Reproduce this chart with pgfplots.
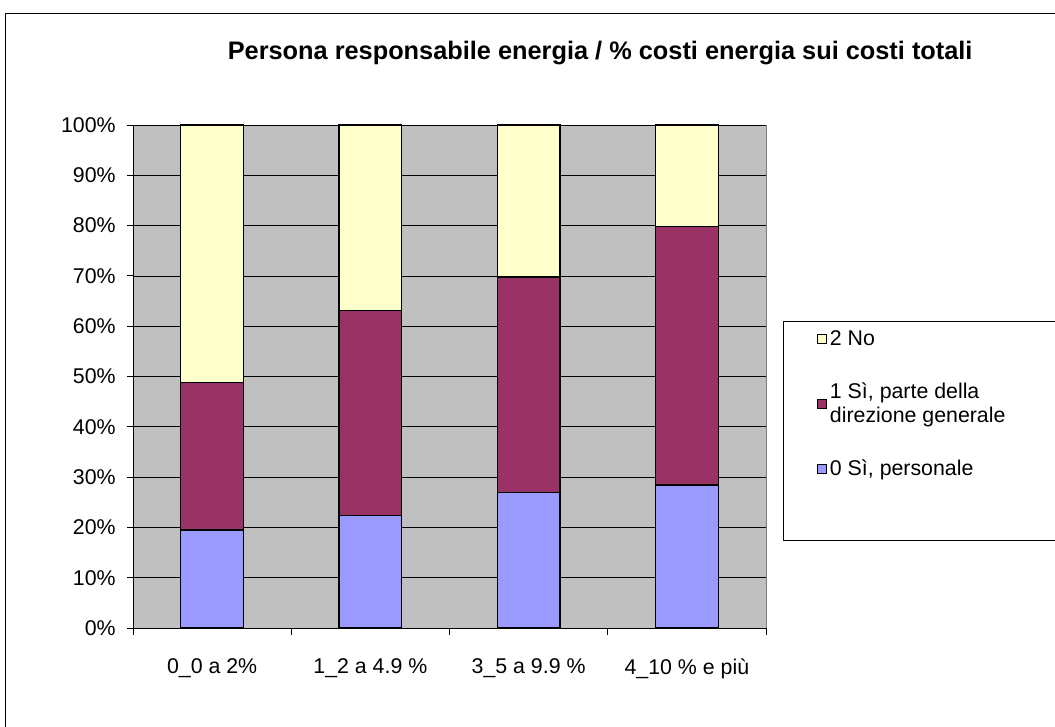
\documentclass[border=0pt]{standalone}
\usepackage{fontspec}
\setmainfont{Liberation Sans}
\usepackage{pgfplots}
\pgfplotsset{compat=1.18}
\definecolor{xlno}{HTML}{FFFFCC}
\definecolor{xlpart}{HTML}{993366}
\definecolor{xlpers}{HTML}{9999FF}
\definecolor{xlplot}{HTML}{C0C0C0}
\pgfplotsset{
  xlbar/.style={draw=black, line width=1pt,
    legend image code/.code={\draw[##1,line width=0.7pt] (0pt,-3.4pt) rectangle (6.8pt,3.4pt);}},
}
\begin{document}
\begin{tikzpicture}[x=0.75pt,y=0.75pt]
\useasboundingbox (0,0) rectangle (1055,727);
% outer chart frame (right and bottom edges fall outside)
\draw[black, line width=0.8pt] (5.5,-20) -- (5.5,713.5) -- (1080,713.5);
% legend frame
\draw[black, line width=0.7pt, fill=white] (783,187) rectangle (1080,406);
\begin{axis}[
  at={(99.75pt,74.25pt)}, anchor=south west,
  scale only axis, width=474.75pt, height=377.25pt,
  ybar stacked, bar width=47pt,
  xmin=-0.5, xmax=3.5, ymin=0, ymax=100,
  axis x line*=bottom, axis y line*=left,
  axis line style={black, line width=0.7pt},
  axis background/.style={fill=xlplot, draw=gray, line width=0.7pt},
  xtick={0,1,2,3},
  xticklabels={0\_0 a 2\%, 1\_2 a 4.9 \%, 3\_5 a 9.9 \%, 4\_10 \% e più},
  major x tick style={draw=none},
  minor xtick={-0.5,0.5,1.5,2.5,3.5},
  minor tick length=5pt,
  major tick length=4.5pt,
  tick align=outside,
  tick style={black, line width=0.6pt},
  ytick={0,10,...,100},
  yticklabel={\pgfmathprintnumber{\tick}\%},
  /pgf/number format/assume math mode=true,
  ymajorgrids, grid style={black, line width=0.5pt},
  ticklabel style={font=\fontsize{16}{18}\selectfont},
  yticklabel style={xshift=-5pt},
  xticklabel style={yshift=-15pt},
  title={Persona responsabile energia / \% costi energia sui costi totali},
  title style={font=\bfseries\fontsize{19}{22}\selectfont, at={(0.738,1.127)}, anchor=center, yshift=0pt},
  reverse legend,
  legend style={at={(1.0806,0.598)}, anchor=north west, draw=none, fill=none,
    font=\fontsize{16}{17.5}\selectfont, row sep=23pt, inner sep=0pt,
    cells={align=left}},
  legend cell align=left,
]
\addplot[xlbar, fill=xlpers] coordinates {(0,19.5) (1,22.3) (2,26.9) (3,28.4)};
\addlegendentry{0 Sì, personale}
\addplot[xlbar, fill=xlpart] coordinates {(0,29.3) (1,40.8) (2,42.9) (3,51.4)};
\addlegendentry{1 Sì, parte della\\direzione generale\rule[-8.5pt]{0pt}{0pt}}
\addplot[xlbar, fill=xlno] coordinates {(0,51.2) (1,36.9) (2,30.2) (3,20.2)};
\addlegendentry{2 No}
\end{axis}
\end{tikzpicture}
\end{document}
